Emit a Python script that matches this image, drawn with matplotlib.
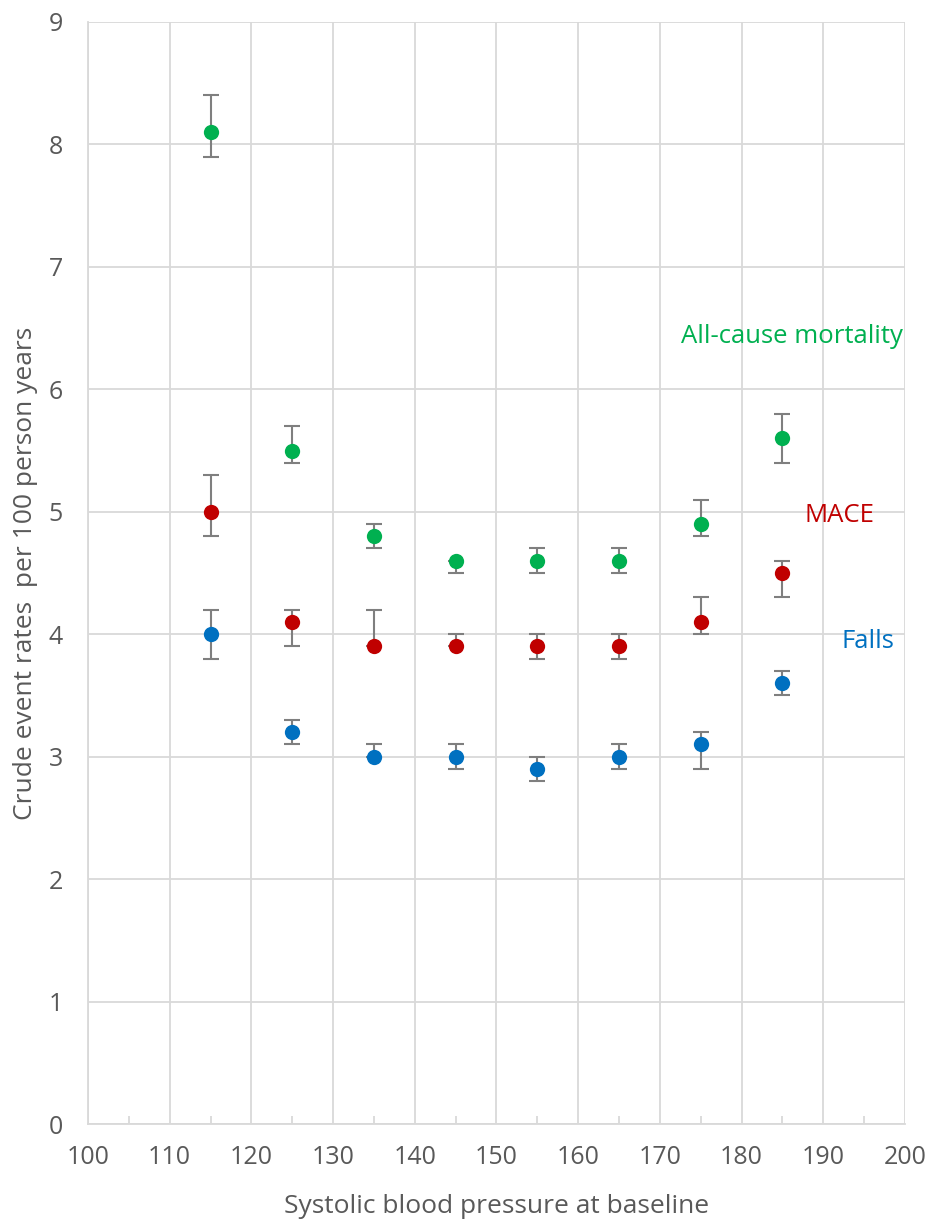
import matplotlib
matplotlib.use("Agg")
import matplotlib.pyplot as plt
from matplotlib.ticker import MultipleLocator

plt.rcParams['font.family'] = ['Open Sans', 'DejaVu Sans']

sbp = [115, 125, 135, 145, 155, 165, 175, 185]

mortality = [8.1, 5.5, 4.8, 4.6, 4.6, 4.6, 4.9, 5.6]
mortality_lo = [7.9, 5.4, 4.7, 4.5, 4.5, 4.5, 4.8, 5.4]
mortality_hi = [8.4, 5.7, 4.9, 4.6, 4.7, 4.7, 5.1, 5.8]

mace = [5.0, 4.1, 3.9, 3.9, 3.9, 3.9, 4.1, 4.5]
mace_lo = [4.8, 3.9, 3.9, 3.9, 3.8, 3.8, 4.0, 4.3]
mace_hi = [5.3, 4.2, 4.2, 4.0, 4.0, 4.0, 4.3, 4.6]

falls = [4.0, 3.2, 3.0, 3.0, 2.9, 3.0, 3.1, 3.6]
falls_lo = [3.8, 3.1, 3.0, 2.9, 2.8, 2.9, 2.9, 3.5]
falls_hi = [4.2, 3.3, 3.1, 3.1, 3.0, 3.1, 3.2, 3.7]

series_names = ["All-cause mortality", "MACE", "Falls"]
series_colors = ["#00B050", "#C00000", "#0070C0"]
# label anchor (x centre, baseline y) in data units
label_pos = [(186.2, 6.38), (192.0, 4.92), (195.5, 3.89)]

fig = plt.figure(figsize=(9.3, 12.19), dpi=100)
ax = fig.add_axes([0.0946, 0.0779, 0.8784, 0.9041])

grid_c = "#D9D9D9"
text_c = "#595959"

data = [
    (mortality, mortality_lo, mortality_hi),
    (mace, mace_lo, mace_hi),
    (falls, falls_lo, falls_hi),
]

for name, col, (tx, ty), (vals, lo, hi) in zip(series_names, series_colors, label_pos, data):
    yerr = [[v - l for v, l in zip(vals, lo)], [h - v for v, h in zip(vals, hi)]]
    ax.errorbar(sbp, vals, yerr=yerr, fmt="none", ecolor="#7F7F7F",
                elinewidth=1.5, capsize=5.6, capthick=1.5, zorder=3)
    ax.plot(sbp, vals, "o", color=col, markersize=11, markeredgewidth=0, zorder=4)
    ax.text(tx, ty, name, color=col, fontsize=18.5, ha="center", va="baseline", zorder=5)

ax.set_xlim(100, 200)
ax.set_ylim(0, 9)
ax.xaxis.set_major_locator(MultipleLocator(10))
ax.xaxis.set_minor_locator(MultipleLocator(5))
ax.yaxis.set_major_locator(MultipleLocator(1))
ax.grid(True, which="major", color=grid_c, linewidth=1.3, zorder=0)
ax.set_axisbelow(True)

for s in ["top", "right"]:
    ax.spines[s].set_visible(False)
for s in ["left", "bottom"]:
    ax.spines[s].set_color(grid_c)
    ax.spines[s].set_linewidth(1.3)

ax.tick_params(axis="y", which="both", length=0, pad=18, labelsize=18, labelcolor=text_c)
ax.tick_params(axis="x", which="major", direction="in", length=0, pad=15,
               labelsize=18, labelcolor=text_c)
ax.tick_params(axis="x", which="minor", direction="in", length=6, color=grid_c, width=1.3)

ax.set_xlabel("Systolic blood pressure at baseline", fontsize=19, color=text_c)
ax.set_ylabel("Crude event rates  per 100 person years", fontsize=19, color=text_c)
ax.xaxis.label.set_va("baseline")
ax.xaxis.set_label_coords(0.5, -0.0808)
ax.yaxis.label.set_va("baseline")
ax.yaxis.set_label_coords(-0.0685, 0.5)

fig.savefig("out.png", dpi=100)
